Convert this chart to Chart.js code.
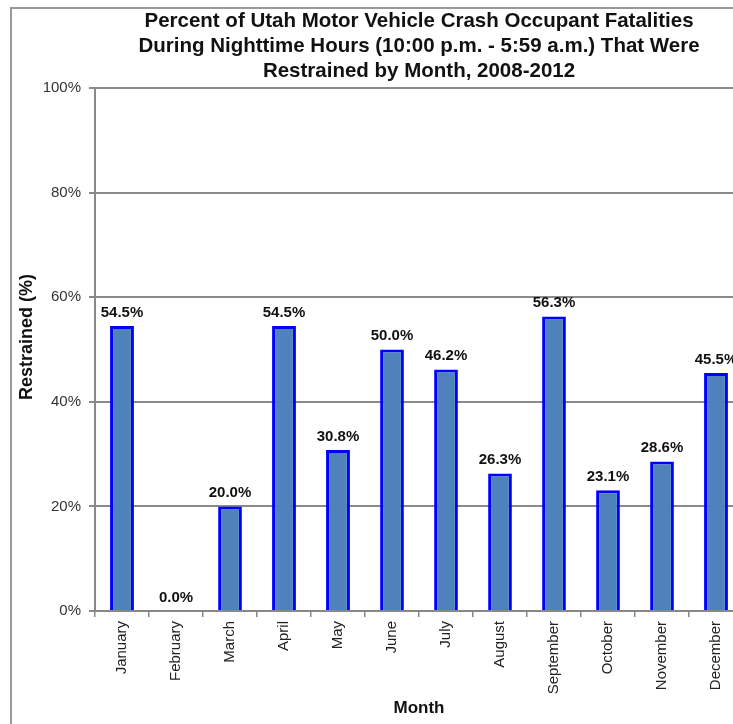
<!DOCTYPE html>
<html>
<head>
<meta charset="utf-8">
<script src="https://cdn.jsdelivr.net/npm/chart.js@4.4.0/dist/chart.umd.min.js"></script>
<style>
html,body{margin:0;padding:0;background:#fff;}
#wrap{position:relative;width:733px;height:724px;overflow:hidden;background:#fff;}
#frame{position:absolute;left:10px;top:7px;width:800px;height:800px;border-left:2px solid #999;border-top:2px solid #999;box-sizing:border-box;}
#c{position:absolute;left:0;top:0;}
</style>
</head>
<body>
<div id="wrap">
<div id="frame"></div>
<canvas id="c" width="760" height="724" style="width:760px;height:724px;"></canvas>
</div>
<script>
const months = ["January","February","March","April","May","June","July","August","September","October","November","December"];
const restrained = [54.5, 0.0, 20.0, 54.5, 30.8, 50.0, 46.2, 26.3, 56.3, 23.1, 28.6, 45.5];
const titleLines = ["Percent of Utah Motor Vehicle Crash Occupant Fatalities","During Nighttime Hours (10:00 p.m. - 5:59 a.m.) That Were","Restrained by Month, 2008-2012"];
const yTickValues = [0, 20, 40, 60, 80, 100];

const FONT = "'Liberation Sans', Arial, sans-serif";

const valueLabels = {
  id: 'valueLabels',
  afterDatasetsDraw(chart) {
    const ctx = chart.ctx;
    const meta = chart.getDatasetMeta(0);
    ctx.save();
    ctx.font = "bold 15px " + FONT;
    ctx.fillStyle = "#111";
    ctx.textAlign = "center";
    ctx.textBaseline = "bottom";
    meta.data.forEach((bar, i) => {
      ctx.fillText(restrained[i].toFixed(1) + "%", bar.x, bar.y - 6);
    });
    ctx.restore();
  }
};

new Chart(document.getElementById('c'), {
  type: 'bar',
  data: {
    labels: months,
    datasets: [{
      data: restrained,
      backgroundColor: '#4f81bd',
      borderColor: '#0000ff',
      borderWidth: 3,
      barPercentage: 0.44,
      categoryPercentage: 1.0
    }]
  },
  options: {
    responsive: false,
    animation: false,
    devicePixelRatio: 1,
    layout: { padding: { left: 0, right: 17, top: 0, bottom: 0 } },
    plugins: {
      legend: { display: false },
      tooltip: { enabled: false },
      title: {
        display: true,
        text: titleLines,
        fullSize: false,
        color: '#111',
        font: { family: FONT, size: 20.5, weight: 'bold', lineHeight: 1.22 },
        padding: { top: 9, bottom: 4 }
      }
    },
    scales: {
      x: {
        grid: { display: true, drawOnChartArea: false, drawTicks: true, tickLength: 6, color: '#888', lineWidth: 1.5, offset: true },
        border: { display: true, color: '#888', width: 2 },
        ticks: {
          color: '#222',
          font: { family: FONT, size: 15 },
          minRotation: 90, maxRotation: 90,
          padding: 4
        },
        title: {
          display: true, text: 'Month', color: '#111',
          font: { family: FONT, size: 17, weight: 'bold' },
          padding: { top: 0, bottom: 5 }
        },
        afterFit(s) { s.height = 113; }
      },
      y: {
        min: 0, max: 100,
        afterBuildTicks(s) { s.ticks = yTickValues.map(v => ({ value: v })); },
        grid: { color: '#8a8a8a', lineWidth: 2, drawTicks: true, tickLength: 6 },
        border: { display: true, color: '#888', width: 2 },
        ticks: {
          color: '#333',
          font: { family: FONT, size: 15 },
          padding: 8,
          callback: v => v + '%'
        },
        title: {
          display: true, text: '\u00A0\u00A0\u00A0\u00A0\u00A0Restrained (%)', color: '#111',
          font: { family: FONT, size: 18, weight: 'bold' },
          padding: { top: 16, bottom: 0 }
        },
        afterFit(s) { s.width = 95; }
      }
    }
  },
  plugins: [valueLabels]
});
</script>
</body>
</html>
